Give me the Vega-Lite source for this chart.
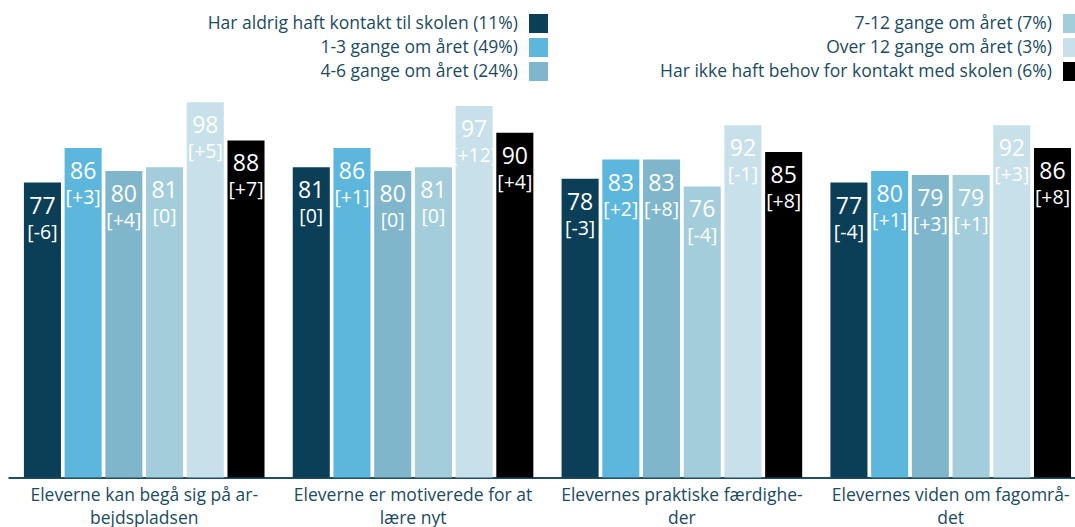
{
  "$schema": "https://vega.github.io/schema/vega-lite/v6.json",
  "width": 1067,
  "height": 383,
  "autosize": {"type": "none"},
  "padding": {"left": 8, "top": 94.5, "right": 0, "bottom": 49.5},
  "background": "white",
  "config": {"view": {"stroke": null}, "font": "Open Sans"},
  "data": {
    "values": [
      {"g": "Eleverne kan begå sig på ar-|bejdspladsen", "c": "Har aldrig haft kontakt til skolen (11%)", "v": 77, "d": "[-6]"},
      {"g": "Eleverne kan begå sig på ar-|bejdspladsen", "c": "1-3 gange om året (49%)", "v": 86, "d": "[+3]"},
      {"g": "Eleverne kan begå sig på ar-|bejdspladsen", "c": "4-6 gange om året (24%)", "v": 80, "d": "[+4]"},
      {"g": "Eleverne kan begå sig på ar-|bejdspladsen", "c": "7-12 gange om året (7%)", "v": 81, "d": "[0]"},
      {"g": "Eleverne kan begå sig på ar-|bejdspladsen", "c": "Over 12 gange om året (3%)", "v": 98, "d": "[+5]"},
      {"g": "Eleverne kan begå sig på ar-|bejdspladsen", "c": "Har ikke haft behov for kontakt med skolen (6%)", "v": 88, "d": "[+7]"},
      {"g": "Eleverne er motiverede for at|lære nyt", "c": "Har aldrig haft kontakt til skolen (11%)", "v": 81, "d": "[0]"},
      {"g": "Eleverne er motiverede for at|lære nyt", "c": "1-3 gange om året (49%)", "v": 86, "d": "[+1]"},
      {"g": "Eleverne er motiverede for at|lære nyt", "c": "4-6 gange om året (24%)", "v": 80, "d": "[0]"},
      {"g": "Eleverne er motiverede for at|lære nyt", "c": "7-12 gange om året (7%)", "v": 81, "d": "[0]"},
      {"g": "Eleverne er motiverede for at|lære nyt", "c": "Over 12 gange om året (3%)", "v": 97, "d": "[+12]"},
      {"g": "Eleverne er motiverede for at|lære nyt", "c": "Har ikke haft behov for kontakt med skolen (6%)", "v": 90, "d": "[+4]"},
      {"g": "Elevernes praktiske færdighe-|der", "c": "Har aldrig haft kontakt til skolen (11%)", "v": 78, "d": "[-3]"},
      {"g": "Elevernes praktiske færdighe-|der", "c": "1-3 gange om året (49%)", "v": 83, "d": "[+2]"},
      {"g": "Elevernes praktiske færdighe-|der", "c": "4-6 gange om året (24%)", "v": 83, "d": "[+8]"},
      {"g": "Elevernes praktiske færdighe-|der", "c": "7-12 gange om året (7%)", "v": 76, "d": "[-4]"},
      {"g": "Elevernes praktiske færdighe-|der", "c": "Over 12 gange om året (3%)", "v": 92, "d": "[-1]"},
      {"g": "Elevernes praktiske færdighe-|der", "c": "Har ikke haft behov for kontakt med skolen (6%)", "v": 85, "d": "[+8]"},
      {"g": "Elevernes viden om fagområ-|det", "c": "Har aldrig haft kontakt til skolen (11%)", "v": 77, "d": "[-4]"},
      {"g": "Elevernes viden om fagområ-|det", "c": "1-3 gange om året (49%)", "v": 80, "d": "[+1]"},
      {"g": "Elevernes viden om fagområ-|det", "c": "4-6 gange om året (24%)", "v": 79, "d": "[+3]"},
      {"g": "Elevernes viden om fagområ-|det", "c": "7-12 gange om året (7%)", "v": 79, "d": "[+1]"},
      {"g": "Elevernes viden om fagområ-|det", "c": "Over 12 gange om året (3%)", "v": 92, "d": "[+3]"},
      {"g": "Elevernes viden om fagområ-|det", "c": "Har ikke haft behov for kontakt med skolen (6%)", "v": 86, "d": "[+8]"}
    ]
  },
  "encoding": {
    "x": {
      "field": "g", "type": "nominal", "sort": null,
      "scale": {"paddingInner": 0.105, "paddingOuter": 0.037, "align": 0.8},
      "axis": {
        "title": null, "labelAngle": 0, "ticks": false, "tickSize": 0,
        "domainColor": "#1f4d61", "domainWidth": 2,
        "labelFont": "Open Sans", "labelFontSize": 17.5, "labelColor": "#1b4b5f",
        "labelPadding": 9, "labelBaseline": "top", "labelLineHeight": 23,
        "labelExpr": "split(datum.label, '|')", "labelLimit": 400
      }
    },
    "xOffset": {
      "field": "c", "type": "nominal",
      "sort": ["Har aldrig haft kontakt til skolen (11%)", "1-3 gange om året (49%)", "4-6 gange om året (24%)", "7-12 gange om året (7%)", "Over 12 gange om året (3%)", "Har ikke haft behov for kontakt med skolen (6%)"],
      "scale": {"paddingInner": 0.09, "paddingOuter": 0}
    },
    "y": {"field": "v", "type": "quantitative", "scale": {"domain": [0, 100]}, "axis": null}
  },
  "layer": [
    {
      "mark": {"type": "bar"},
      "encoding": {
        "color": {
          "field": "c", "type": "nominal",
          "scale": {
            "domain": ["Har aldrig haft kontakt til skolen (11%)", "1-3 gange om året (49%)", "4-6 gange om året (24%)", "7-12 gange om året (7%)", "Over 12 gange om året (3%)", "Har ikke haft behov for kontakt med skolen (6%)"],
            "range": ["#0a3f57", "#5db6dc", "#80b6cb", "#a3cddb", "#c7e0ea", "#000000"]
          },
          "legend": {
            "title": null, "orient": "none", "legendX": 521, "legendY": -80.5,
            "columns": 2,
            "symbolType": "square", "symbolSize": 361, "symbolStrokeWidth": 0, "symbolOpacity": 1,
            "labelAlign": "right", "labelOffset": -30,
            "labelFont": "Open Sans", "labelFontSize": 17.5, "labelColor": "#1b4b5f", "labelLimit": 600,
            "columnPadding": 112, "rowPadding": 5
          }
        }
      }
    },
    {
      "mark": {"type": "text", "baseline": "alphabetic", "dy": 31, "fontSize": 23, "color": "white", "font": "Open Sans"},
      "encoding": {"text": {"field": "v", "type": "quantitative"}}
    },
    {
      "mark": {"type": "text", "baseline": "alphabetic", "dy": 56, "fontSize": 19.5, "color": "white", "font": "Open Sans"},
      "encoding": {"text": {"field": "d", "type": "nominal"}}
    }
  ]
}
